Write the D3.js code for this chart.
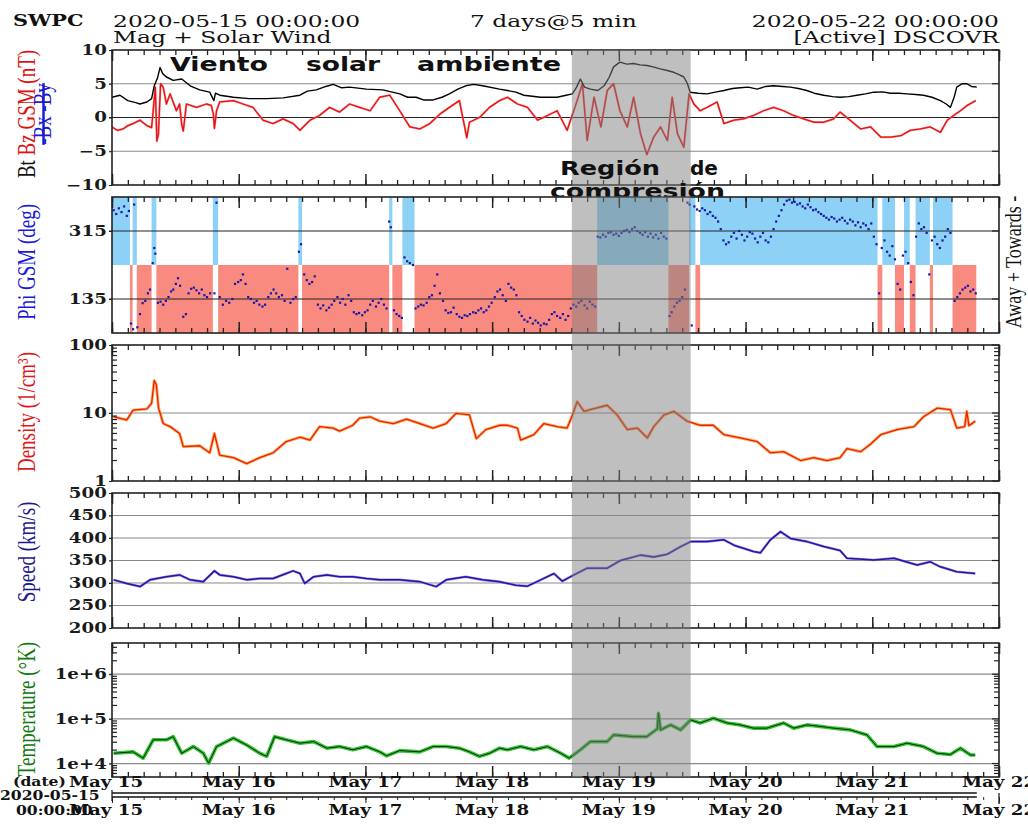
<!DOCTYPE html>
<html><head><meta charset="utf-8">
<script src="https://cdn.jsdelivr.net/npm/d3@7"></script>
<style>
html,body{margin:0;padding:0;background:#fff}
svg{display:block}
</style>
</head><body>
<svg id="c" width="1028" height="827"></svg>
<script>
// ---------- DATA (hours since 2020-05-15 00:00 UTC, value) ----------
const headerLeft = "2020-05-15 00:00:00";
const headerRight = "2020-05-22 00:00:00";
const headerMid = "7 days@5 min";
const dayLabels = ["May 15","May 16","May 17","May 18","May 19","May 20","May 21","May 22"];
const compressionStart = 87.1, compressionEnd = 109.6;

const btData = [[0,3.0],[1.5,3.3],[3,2.5],[4.5,2.2],[5.3,2.0],[6.6,2.3],[7.5,2.8],[8,4.7],[8.6,5.8],[9.1,7.4],[9.6,6.5],[10.3,6.0],[11.6,5.5],[13.2,5.7],[14.8,4.7],[16.6,4.1],[18.5,3.75],[19.3,2.5],[19.6,3.6],[20.4,3.3],[23,3.0],[26,2.8],[29.3,2.8],[32.4,2.9],[35.6,3.3],[37,3.9],[38.7,4.1],[40.5,4.6],[41.9,4.9],[43.5,4.4],[45,4.5],[48.2,4.2],[51.3,4.1],[54.5,3.5],[56,3.0],[57.6,3.0],[59,2.6],[60.8,2.6],[62.5,3.0],[63.9,3.5],[65.5,4.2],[67,4.7],[68.5,4.9],[70.2,4.7],[73.4,4.2],[74.9,4.0],[76.5,3.75],[78,3.3],[81.2,3.0],[84.3,3.0],[86,3.3],[87.2,3.5],[88,4.5],[88.7,5.7],[89.5,4.5],[90.6,4.2],[92,4.0],[93.2,4.7],[94.2,6.0],[95,7.5],[96.2,8.2],[97.5,7.9],[98.8,8.0],[100,7.8],[101.3,7.7],[102.5,7.5],[103.8,7.2],[105,7.0],[106.4,6.7],[107.5,6.3],[108.3,6.0],[109,5.0],[109.5,3.75],[111,3.6],[112.7,3.5],[114.5,3.8],[115.9,4.0],[117.5,4.3],[119,4.4],[120.5,4.5],[122.2,4.2],[123.8,4.6],[125.3,4.7],[127,4.6],[128.5,4.5],[130,4.3],[131.6,4.0],[133,3.6],[134.8,3.3],[136.5,3.1],[137.9,3.0],[139.5,3.1],[141.1,3.3],[142.7,3.5],[144.3,3.75],[146,3.8],[147.4,3.6],[149,3.6],[150.6,3.5],[152.2,3.4],[153.7,3.3],[155.3,3.0],[156.9,2.5],[158,2.0],[158.8,1.5],[159.5,3.0],[160,4.5],[161,5.0],[161.9,5.0],[162.8,4.6],[163.8,4.5]];

const bzData = [[0,-1.4],[1,-1.9],[2.1,-1.7],[3,-1.2],[4,-0.9],[5.3,-0.4],[6.6,-1.2],[7.5,-1.5],[7.8,1.0],[8.2,4.5],[8.5,-3.5],[8.8,-2.4],[9.2,5.0],[9.7,4.5],[10.3,2.0],[11,3.5],[12.2,1.0],[12.8,2.0],[13.2,-1.0],[13.5,-2.0],[14.1,2.0],[16,1.5],[17.9,2.0],[18.8,1.8],[19.2,0.5],[19.4,-1.6],[19.8,1.0],[20.4,2.3],[23,2.5],[24.8,2.0],[26.7,1.5],[28.6,-0.4],[30.5,-0.9],[32.4,-0.2],[34.3,-0.9],[35.6,-1.9],[37.5,-0.4],[39.3,0.3],[41.2,1.5],[43.1,0.8],[45,2.0],[46.9,1.5],[48.9,1.0],[50.7,3.0],[52.6,3.3],[54.5,1.0],[56.4,-1.4],[58.3,-1.7],[60.2,-0.9],[62.1,0.5],[63.9,1.5],[65.8,2.5],[67.2,-3.0],[67.7,-0.7],[69.6,0],[71.5,1.5],[73.4,2.5],[74.9,3.0],[76.8,2.0],[78.7,1.5],[80.6,-0.4],[82.5,0.3],[84.3,1.0],[86.2,-1.9],[88.1,2.5],[89.1,5.0],[90,-3.4],[91.3,3.0],[92.6,-1.4],[93.8,4.0],[95,5.0],[96.2,1.0],[97.6,-1.4],[98.8,3.0],[100.1,-2.4],[101.3,-5.5],[102.6,-2.9],[103.9,-1.4],[105.2,-3.4],[106.1,3.0],[107.1,-2.4],[108.3,-4.4],[109.3,3.5],[110.2,2.0],[111.4,1.0],[112.7,1.5],[114.6,2.3],[115.9,-0.9],[117.8,-0.4],[119.6,-0.2],[121.5,0.3],[123.4,1.0],[125.3,1.5],[127.2,1.0],[129.1,0.3],[131,-0.2],[132.9,-0.7],[134.8,-0.7],[136.7,-0.2],[137.9,0.8],[139.8,-0.4],[141.8,-1.7],[143.7,-1.4],[145.6,-2.9],[147.5,-2.9],[149.4,-2.7],[151.2,-1.9],[153.1,-1.7],[155,-1.4],[156.9,-2.2],[158.2,-0.4],[159.4,0.3],[160.7,1.0],[162,1.8],[163.6,2.5]];

// phi band segments: [start hour, end hour, side] T = towards (blue), A = away (red)
const phiBands = [[0,3.4,"T"],[3.4,3.9,"A"],[3.9,4.7,"T"],[4.7,7.5,"A"],[7.5,8.4,"T"],[8.4,19.1,"A"],[19.1,20.1,"T"],[20.1,35.3,"A"],[35.3,36.0,"T"],[36.0,52.5,"A"],[52.5,53.1,"T"],[53.1,55.0,"A"],[55.0,57.3,"T"],[57.3,91.9,"A"],[91.9,105.4,"T"],[105.4,109.3,"A"],[109.3,110.5,"T"],[110.5,111.4,"A"],[111.4,145.0,"T"],[145.0,145.9,"A"],[145.9,148.3,"T"],[148.3,150.0,"A"],[150.0,151.1,"T"],[151.1,152.2,"A"],[152.2,154.9,"T"],[154.9,155.5,"A"],[155.5,159.2,"T"],[159.2,163.7,"A"]];

const phiData = [[0.3,370],[0.8,360],[1.3,375],[1.8,365],[2.3,380],[2.8,355],[3.2,368],[3.6,70],[4.0,55],[4.2,385],[4.8,60],[5.3,95],[5.8,124],[6.3,130],[6.8,150],[7.2,160],[7.7,230],[8.0,270],[8.2,255],[8.7,125],[9.2,128],[9.7,120],[10.2,130],[10.7,140],[11.2,155],[11.6,160],[12.1,175],[12.5,190],[12.9,170],[13.5,88],[14.0,95],[14.5,150],[15.0,162],[15.5,165],[16.0,158],[16.5,150],[17.0,160],[17.5,145],[18.0,140],[18.6,150],[19.4,150],[19.8,390],[20.4,140],[21,120],[21.6,130],[22.2,125],[22.8,135],[23.3,175],[23.9,180],[24.4,185],[24.8,200],[25.3,175],[25.8,140],[26.3,135],[26.9,125],[27.4,130],[27.9,120],[28.5,115],[29.0,120],[29.6,140],[30.1,150],[30.6,160],[31.1,150],[31.6,140],[32.2,145],[32.7,130],[33.2,215],[33.8,125],[34.3,135],[34.8,140],[35.4,260],[35.8,280],[36.4,200],[36.9,185],[37.4,175],[37.9,180],[38.4,195],[39.0,120],[39.5,110],[40.0,118],[40.6,105],[41.1,112],[41.6,120],[42.1,130],[42.7,140],[43.2,125],[43.7,135],[44.2,120],[44.8,145],[45.3,130],[45.8,100],[46.3,95],[46.8,98],[47.4,92],[47.9,100],[48.4,105],[48.9,120],[49.4,130],[50.0,115],[50.5,125],[51.0,135],[51.5,120],[52.0,110],[52.5,340],[52.8,325],[53.4,105],[53.9,95],[54.4,90],[54.9,85],[55.4,245],[55.9,235],[56.4,230],[57.0,225],[57.5,110],[58.0,115],[58.5,120],[59.0,118],[59.6,125],[60.1,140],[60.6,145],[61.1,170],[61.6,200],[62.1,150],[62.7,130],[63.2,105],[63.7,98],[64.2,100],[64.7,112],[65.3,95],[65.8,88],[66.3,85],[66.8,92],[67.3,90],[67.8,95],[68.4,100],[68.9,98],[69.4,105],[69.9,110],[70.4,100],[70.9,105],[71.4,115],[71.9,125],[72.5,140],[73.0,155],[73.5,160],[74.0,145],[74.6,130],[75.1,175],[75.6,165],[76.1,160],[76.6,145],[77.1,100],[77.6,90],[78.1,80],[78.7,75],[79.2,85],[79.7,70],[80.2,78],[80.7,72],[81.2,65],[81.8,70],[82.3,68],[82.8,80],[83.3,95],[83.8,100],[84.3,90],[84.9,85],[85.4,95],[85.9,80],[86.4,90],[86.9,110],[87.4,120],[87.9,115],[88.4,125],[88.9,130],[89.5,118],[90.0,110],[90.5,128],[91.0,120],[91.5,115],[92.0,300],[92.5,298],[93.0,305],[93.5,300],[94.0,310],[94.5,312],[95.0,305],[95.5,308],[96.0,302],[96.5,310],[97.0,315],[97.5,318],[98.0,312],[98.5,320],[99.0,325],[99.5,315],[100.0,310],[100.5,305],[101.0,312],[101.5,300],[102.0,308],[102.5,298],[103.0,305],[103.5,295],[104.0,310],[104.5,300],[105.0,295],[105.6,90],[106.0,100],[106.5,115],[107.0,125],[107.5,130],[108.0,140],[108.5,160],[109.0,390],[109.4,385],[109.8,65],[110.3,380],[110.8,372],[111.3,368],[111.8,375],[112.3,370],[112.8,360],[113.3,365],[113.8,355],[114.3,350],[114.8,340],[115.3,320],[115.8,290],[116.3,280],[116.8,285],[117.3,300],[117.8,310],[118.3,295],[118.8,315],[119.3,305],[119.8,290],[120.3,300],[120.8,312],[121.3,308],[121.8,295],[122.3,285],[122.8,300],[123.3,310],[123.8,290],[124.3,285],[124.8,300],[125.3,320],[125.8,340],[126.3,355],[126.8,370],[127.3,385],[127.8,395],[128.3,398],[128.8,390],[129.3,392],[129.8,385],[130.3,388],[130.8,380],[131.3,375],[131.8,385],[132.3,378],[132.8,370],[133.3,372],[133.8,365],[134.3,360],[134.8,355],[135.3,350],[135.8,345],[136.3,352],[136.8,348],[137.3,340],[137.8,345],[138.3,350],[138.8,342],[139.3,335],[139.8,345],[140.3,340],[140.8,330],[141.3,338],[141.8,325],[142.3,335],[142.8,330],[143.3,320],[143.8,335],[144.3,300],[144.8,280],[145.3,150],[145.8,270],[146.3,290],[146.8,260],[147.3,250],[147.8,275],[148.3,240],[148.8,175],[149.3,160],[149.8,250],[150.3,260],[150.8,230],[151.3,180],[151.8,145],[152.3,300],[152.8,335],[153.3,320],[153.8,325],[154.3,310],[154.8,200],[155.3,290],[155.8,300],[156.3,280],[156.8,270],[157.3,290],[157.8,300],[158.3,320],[158.8,310],[159.6,130],[160.1,140],[160.6,150],[161.1,160],[161.6,165],[162.1,170],[162.6,155],[163.1,160],[163.6,150]];

const densityData = [[0.3,8.8],[2.8,7.9],[4,11],[6.6,11.5],[7.5,13.9],[8,30],[8.4,26],[8.8,12],[9.7,7],[11,6.3],[12.8,5],[13.5,3.2],[16.6,3.3],[18.5,2.6],[19.4,5],[20.4,2.4],[23,2.2],[25.5,1.8],[28,2.2],[30.5,2.6],[33,3.8],[35.6,4.4],[37.5,4.0],[39.3,6.3],[41.9,6.0],[43.1,5.4],[45.6,6.6],[46.9,8.4],[48.9,8.8],[50.7,7.6],[53.3,7.0],[55.8,8.1],[58.3,7.0],[60.8,6.0],[63.3,7.0],[65.2,9.9],[67.7,9.4],[69,4.2],[70.8,5.7],[73.4,6.6],[74.9,6.6],[76.8,6.0],[77.4,4.0],[79.9,4.8],[81.8,7.0],[84.3,6.3],[86.2,6.0],[87.2,9.3],[88.1,14.7],[89.4,10.6],[91.3,11.6],[93.8,13],[95.7,9.3],[97.6,5.7],[99.5,6.0],[101.4,4.3],[102.6,6.3],[104.5,9.3],[106.4,10.6],[108.9,7.6],[111.4,6.6],[113.9,6.6],[115.9,4.8],[119,4.3],[122.2,3.8],[124.7,2.6],[127.2,2.7],[130.4,2.0],[132.9,2.2],[135.4,2.0],[137.9,2.2],[139.2,3.0],[141.8,2.7],[143.7,3.5],[145.6,4.8],[148.7,5.7],[151.9,6.3],[153.7,8.8],[156.3,11.8],[158.8,11.2],[160,6.0],[161.5,6.3],[161.9,10.6],[162.3,6.5],[163.5,7.6]];

const speedData = [[0.3,307],[2.8,299],[5.3,292],[7.2,307],[10.3,314],[12.8,318],[14.8,307],[17.3,303],[19.4,327],[20.4,318],[23,314],[25.5,307],[28,310],[30.5,310],[33,321],[34.3,327],[35.6,321],[36.5,299],[38.2,314],[40.7,318],[43.1,314],[45.6,314],[48.2,310],[50.7,307],[54.5,307],[58.3,303],[61.4,292],[63.3,307],[67,314],[70.2,307],[73.4,303],[76.5,295],[78.7,293],[81.2,307],[83.7,321],[85.3,304],[87.5,318],[90,333],[93.8,333],[96.3,350],[100.1,362],[102.6,358],[105.2,364],[107.7,381],[109.6,392],[112.7,392],[115.9,396],[117.8,384],[121.5,370],[122.8,367],[124.7,396],[126.6,414],[128.5,399],[131.6,392],[134.8,381],[137.9,372],[139.2,355],[144.3,351],[148.1,355],[152.5,340],[155,347],[156.9,336],[160,325],[163.5,321]];

const tempData = [[0.3,17000],[4,18300],[5.9,13200],[7.8,34000],[10.3,34000],[11.6,40000],[13.2,17000],[15.4,24000],[17.3,17000],[18.3,10200],[19.8,24000],[23,37000],[25.5,26000],[28,17000],[29.3,14500],[30.8,40000],[33,34000],[35.6,28600],[38.2,31000],[40.7,22100],[43.1,24000],[45.6,20300],[48.2,24000],[50.7,18300],[52,14900],[54.5,19500],[58.3,18300],[60.8,24000],[63.3,24000],[65.8,22100],[67.7,18300],[69.6,14500],[71.5,17000],[73.4,22100],[74.9,20300],[77.4,24000],[79.9,20300],[82.5,24000],[85,17000],[86.6,13200],[88.7,20300],[90.6,31000],[93.8,31000],[95,43800],[98.8,40000],[101.3,40000],[103.3,60000],[103.5,134000],[103.9,56800],[105.8,73400],[107.7,56800],[109.6,95000],[111.4,81000],[113.9,103600],[116.5,81000],[119,73400],[121.5,62000],[124,62000],[127.2,81000],[129.1,62000],[131.6,73400],[134.1,68000],[136.7,62000],[139.8,56800],[143,43800],[144.9,24000],[148.1,24000],[150.6,28600],[153.7,24000],[156.3,17000],[158.8,16000],[160.7,22100],[162.6,15500],[163.5,15500]];

// ---------- LAYOUT ----------
const svg = d3.select("#c");
const SERIF = "'DejaVu Serif', serif";
const TIMES = "'Liberation Serif', 'Times New Roman', serif";
const SANS = "'DejaVu Sans', sans-serif";
const SX = 1.3; // horizontal stretch of the original raster

const T0 = Date.UTC(2020,4,15), T1 = Date.UTC(2020,4,22);
const hr = h => new Date(T0 + h*3600000);
const x = d3.scaleUtc().domain([new Date(T0), new Date(T1)]).range([112, 999]);
const X0 = 112, X1 = 999;

const minorDen = [2,3,4,5,6,7,8,9,20,30,40,50,60,70,80,90];
const minorTmp = [6e3,7e3,8e3,9e3,2e4,3e4,4e4,5e4,6e4,7e4,8e4,9e4,2e5,3e5,4e5,5e5,6e5,7e5,8e5,9e5,2e6,3e6,4e6];
const expFmt = v => "1e+" + Math.round(Math.log10(v));

const panels = [
  {id:"mag", top:50, bottom:185, y:d3.scaleLinear().domain([-10,10]), ticks:[-10,-5,0,5,10], grid:[-5,5], dark:[0], fmt:d3.format("d")},
  {id:"phi", top:197, bottom:333, y:d3.scaleLinear().domain([45,405]), ticks:[135,315], grid:[], dark:[135,315], fmt:d3.format("d")},
  {id:"den", top:345, bottom:481, y:d3.scaleLog().domain([1,100]), ticks:[1,10,100], grid:[10], dark:[], minor:minorDen, fmt:d3.format("d")},
  {id:"spd", top:493, bottom:628, y:d3.scaleLinear().domain([200,500]), ticks:[200,250,300,350,400,450,500], grid:[250,300,350,400,450], dark:[], fmt:d3.format("d")},
  {id:"tmp", top:643, bottom:777, y:d3.scaleLog().domain([5e3,5e6]), ticks:[1e4,1e5,1e6], grid:[1e4,1e5,1e6], dark:[], minor:minorTmp, fmt:expFmt}
];
panels.forEach(p => p.y.range([p.bottom, p.top]));
const P = Object.fromEntries(panels.map(p => [p.id, p]));

const defs = svg.append("defs");
panels.forEach(p => {
  defs.append("clipPath").attr("id","clip-"+p.id).append("rect")
    .attr("x",X0).attr("y",p.top).attr("width",X1-X0).attr("height",p.bottom-p.top);
});
defs.append("clipPath").attr("id","clip-annot").append("rect").attr("x",0).attr("y",0).attr("width",1028).attr("height",196.5);

// panel backgrounds
panels.forEach(p => {
  svg.append("rect").attr("x",X0).attr("y",p.top).attr("width",X1-X0).attr("height",p.bottom-p.top).attr("fill","#fff");
});

// phi bands
{
  const p = P.phi;
  svg.append("g").attr("clip-path","url(#clip-phi)").selectAll("rect").data(phiBands).join("rect")
    .attr("x", d => x(hr(d[0])))
    .attr("width", d => Math.max(1, x(hr(d[1])) - x(hr(d[0]))))
    .attr("y", d => d[2]==="T" ? p.y(405) : p.y(225))
    .attr("height", d => d[2]==="T" ? p.y(225)-p.y(405) : p.y(45)-p.y(225))
    .attr("fill", d => d[2]==="T" ? "#8dd2f6" : "#f98a80");
}

// grid lines
panels.forEach(p => {
  const g = svg.append("g");
  g.selectAll("line.g").data(p.grid).join("line")
    .attr("x1",X0-3).attr("x2",X1).attr("y1",d=>p.y(d)).attr("y2",d=>p.y(d))
    .attr("stroke","#8a8a8a").attr("stroke-width",1.2);
  g.selectAll("line.d").data(p.dark).join("line")
    .attr("x1",X0-3).attr("x2",X1).attr("y1",d=>p.y(d)).attr("y2",d=>p.y(d))
    .attr("stroke","#222").attr("stroke-width",1.2);
});

// data
function drawLine(p, data, color, width, halo, haloW, haloOp) {
  const line = d3.line().x(d => x(hr(d[0]))).y(d => p.y(d[1]));
  const g = svg.append("g").attr("clip-path","url(#clip-"+p.id+")");
  if (halo) g.append("path").datum(data).attr("d",line).attr("fill","none").attr("stroke",halo).attr("stroke-width",haloW).attr("stroke-linejoin","round").attr("opacity",haloOp ?? 0.8);
  g.append("path").datum(data).attr("d",line).attr("fill","none").attr("stroke",color).attr("stroke-width",width).attr("stroke-linejoin","round");
}
drawLine(P.mag, bzData, "#e81010", 1.3, "#f58080", 2.2);
drawLine(P.mag, btData, "#000", 1.4);
svg.append("g").attr("clip-path","url(#clip-phi)").selectAll("rect").data(phiData).join("rect")
  .attr("x", d => x(hr(d[0])) - 1.1).attr("y", d => P.phi.y(d[1]) - 1.1)
  .attr("width", 2.2).attr("height", 2.2).attr("fill", "#1818a8");
drawLine(P.den, densityData, "#e82200", 1.3, "#ff9a40", 3);
drawLine(P.spd, speedData, "#2a12a0", 1.5, "#8a78e8", 2.6);
drawLine(P.tmp, tempData, "#111", 0.9, "#2ec82e", 3.6, 1);

// frames, ticks
panels.forEach(p => {
  const g = svg.append("g");
  const mk = (axisFn, y0, size) => {
    g.append("g").attr("transform",`translate(0,${y0})`)
      .call(axisFn(x).ticks(d3.utcHour.every(3)).tickSize(size).tickFormat(""))
      .call(a => { a.select(".domain").remove(); a.selectAll("line").attr("stroke","#222").attr("stroke-width",1.3); });
    g.append("g").attr("transform",`translate(0,${y0})`)
      .call(axisFn(x).ticks(d3.utcDay).tickSize(size*2.2).tickFormat(""))
      .call(a => { a.select(".domain").remove(); a.selectAll("line").attr("stroke","#222").attr("stroke-width",1.5); });
  };
  mk(d3.axisBottom, p.top, 5);
  mk(d3.axisTop, p.bottom, 5);
  // right ticks
  g.selectAll("line.rt").data(p.ticks.concat(p.minor || [])).join("line")
    .attr("x1", X1).attr("x2", d => X1 - ((p.minor||[]).includes(d) ? 5 : 7))
    .attr("y1", d => p.y(d)).attr("y2", d => p.y(d)).attr("stroke","#222").attr("stroke-width",1.2);
  if (p.minor) {
    g.selectAll("line.lt").data(p.minor).join("line")
      .attr("x1", X0).attr("x2", X0 + 5).attr("y1", d => p.y(d)).attr("y2", d => p.y(d))
      .attr("stroke","#222").attr("stroke-width",1.2);
  }
  // left labels
  const ax = g.append("g").attr("transform",`translate(${X0},0)`)
    .call(d3.axisLeft(p.y).tickValues(p.ticks).tickSize(3).tickPadding(1).tickFormat(p.fmt));
  ax.select(".domain").remove();
  ax.selectAll("line").attr("stroke","#222");
  ax.selectAll("text").attr("font-family",SERIF).attr("font-weight","bold").attr("font-size",14)
    .attr("fill","#1a1a1a").attr("transform",`scale(${SX},1)`);
  g.append("rect").attr("x",X0).attr("y",p.top).attr("width",X1-X0).attr("height",p.bottom-p.top)
    .attr("fill","none").attr("stroke","#222").attr("stroke-width",1.6);
});

// compression region overlay
svg.append("rect").attr("x", x(hr(compressionStart))).attr("y", P.mag.top)
  .attr("width", x(hr(compressionEnd)) - x(hr(compressionStart))).attr("height", P.tmp.bottom - P.mag.top)
  .attr("fill","#808080").attr("opacity",0.5);

// ---------- TEXT ----------
function t(x0, y0, s, o = {}) {
  const parent = o.parent || svg;
  const el = parent.append("text")
    .attr("transform", `translate(${x0},${y0}) scale(${o.sx ?? SX},1)` + (o.rot ? ` rotate(${o.rot})` : ""))
    .attr("font-family", o.ff || SERIF).attr("font-size", o.fs || 18)
    .attr("font-weight", o.fw || "normal").attr("fill", o.fill || "#111")
    .attr("text-anchor", o.anchor || "start").text(s);
  if (o.len) el.attr("textLength", o.len).attr("lengthAdjust","spacingAndGlyphs");
  return el;
}
// header
t(13, 26, "SWPC", {fs:16, fw:"bold"});
t(113, 27, headerLeft, {fs:17, sx:1.376});
t(113, 43, "Mag + Solar Wind", {fs:17, sx:1.376});
t(470, 27, headerMid, {fs:17, sx:1.376});
t(999, 27, headerRight, {fs:17, anchor:"end", sx:1.376});
t(999, 43, "[Active] DSCOVR", {fs:17, anchor:"end", sx:1.376});

// annotations
const an = {ff:SANS, fw:"bold", fs:19, sx:1, fill:"#111"};
t(170, 71, "Viento", {...an, len:98});
t(306, 71, "solar", {...an, len:74});
t(417, 71, "ambiente", {...an, len:144});
t(560, 175, "Región", {...an, len:100});
t(690, 175, "de", {...an, len:28});
const annotClip = svg.append("g").attr("clip-path","url(#clip-annot)");
t(550, 198, "compresión", {...an, len:175, parent:annotClip});

// axis titles (rotated)
const rt = {ff:TIMES, fs:19, rot:-90, anchor:"middle"};
{
  const e = t(35, 114, "", {...rt});
  e.append("tspan").attr("fill","#111").text("Bt  ");
  e.append("tspan").attr("fill","#e01010").text("Bz GSM (nT)");
  t(51, 114, "-Bx -By", {...rt, fill:"#1a1ad0"}).attr("text-decoration","line-through");
}
t(35, 262, "Phi GSM (deg)", {...rt, fill:"#1a1ad8"});
t(35, 412, "Density (1/cm³)", {...rt, fill:"#e01818"});
t(35, 552, "Speed (km/s)", {...rt, fill:"#1c1890"});
t(35, 709, "Temperature (°K)", {...rt, fill:"#127a12"});
t(1021, 262, "Away + Towards -", {...rt, fs:18, fill:"#111"});

// bottom date axes
const days = d3.utcDay.range(new Date(T0), new Date(T1 + 1));
days.forEach((d, i) => {
  const cx = i === 0 ? x(d) - 6 : x(d);
  t(cx, 787, dayLabels[i], {fs:14, fw:"bold", anchor:"middle"});
  t(cx, 815, dayLabels[i], {fs:14, fw:"bold", anchor:"middle"});
});
t(13, 786, "(date)", {fs:12, fw:"bold"});
t(0, 800, "2020-05-15", {fs:12, fw:"bold"});
t(16, 815, "00:00:00", {fs:12, fw:"bold"});

// timeline strip
{
  const endH = btData[btData.length - 1][0];
  const g = svg.append("g");
  [793, 797].forEach(yy => g.append("line").attr("x1", X0).attr("x2", x(hr(endH))).attr("y1", yy).attr("y2", yy).attr("stroke","#111").attr("stroke-width",1.4));
  g.append("g").attr("transform","translate(0,797)")
    .call(d3.axisBottom(x).ticks(d3.utcHour.every(3)).tickSize(3).tickFormat(""))
    .call(a => { a.select(".domain").remove(); a.selectAll("line").attr("stroke","#222"); });
  g.append("g").attr("transform","translate(0,797)")
    .call(d3.axisBottom(x).ticks(d3.utcDay).tickSize(6).tickFormat(""))
    .call(a => { a.select(".domain").remove(); a.selectAll("line").attr("stroke","#222"); });
  g.append("line").attr("x1",X0).attr("x2",X0).attr("y1",790).attr("y2",801).attr("stroke","#222").attr("stroke-width",1.3);
  g.append("line").attr("x1",X1).attr("x2",X1).attr("y1",793).attr("y2",804).attr("stroke","#222").attr("stroke-width",1.3);
}
</script>
</body></html>
